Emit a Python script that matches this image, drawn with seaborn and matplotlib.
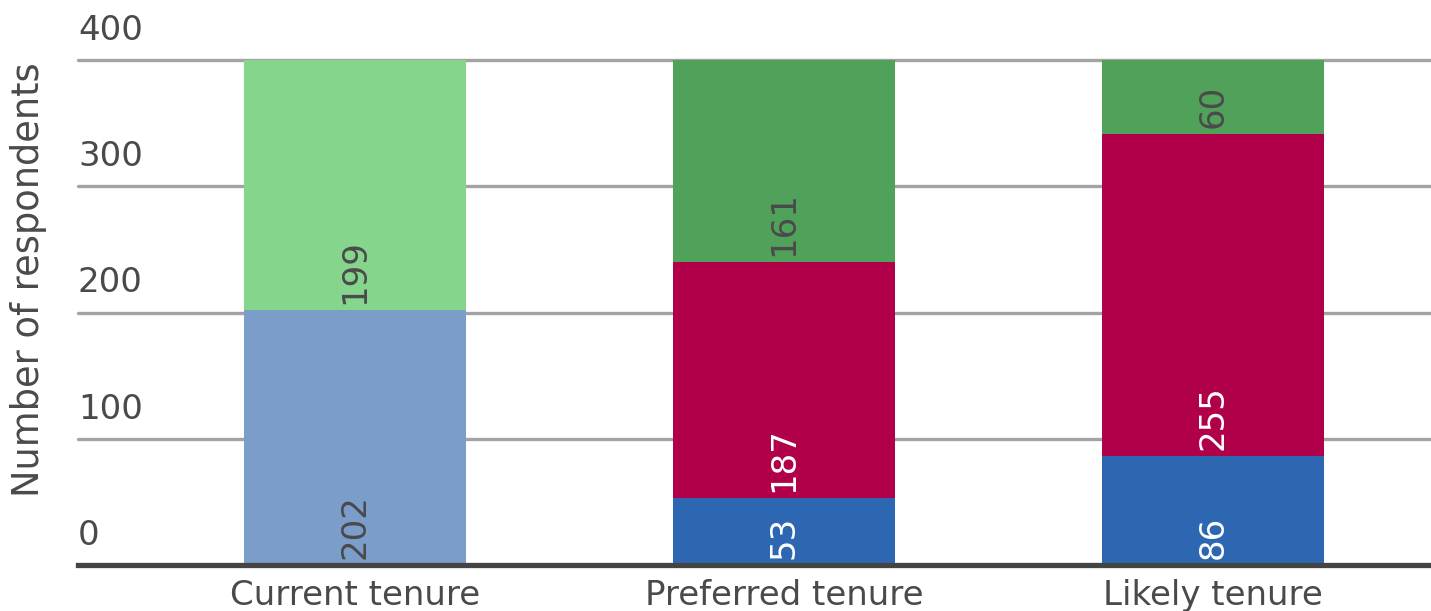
import matplotlib
matplotlib.use("Agg")
import matplotlib.pyplot as plt
import matplotlib.transforms as mtransforms
import numpy as np
import pandas as pd
import seaborn as sns

# ---- data ----
categories = ["Current tenure", "Preferred tenure", "Likely tenure"]
seg_bottom = [202, 53, 86]
seg_middle = [0, 187, 255]
seg_top = [199, 161, 60]

y_ticks = [0, 100, 200, 300, 400]

# ---- styling ----
bottom_colors = ["#7b9dc9", "#2e67b1", "#2e67b1"]
middle_colors = ["#b0004a", "#b0004a", "#b0004a"]
top_colors = ["#86d58c", "#50a15a", "#50a15a"]
label_dark = "#4a4a4a"
text_color = "#4a4a4a"
FS = 24.5

sns.set_theme(style="white")
plt.rcParams["font.family"] = ["DejaVu Sans"]

fig = plt.figure(figsize=(14.31, 6.11), dpi=100)
W, H = 1431, 611
ax = fig.add_axes([78 / W, (H - 565) / H, (W - 78) / W, (565 - 60) / H])

cum1 = np.array(seg_bottom)
cum2 = cum1 + np.array(seg_middle)
cum3 = cum2 + np.array(seg_top)

bar_width = 0.517
layers = [(cum3, top_colors, 2), (cum2, middle_colors, 3), (cum1, bottom_colors, 4)]
for heights, colors, z in layers:
    df = pd.DataFrame({"cat": categories, "val": heights})
    sns.barplot(data=df, x="cat", y="val", hue="cat", palette=colors,
                order=categories, hue_order=categories, legend=False,
                width=bar_width, saturation=1, ax=ax, zorder=z, linewidth=0)

# value labels, rotated, anchored at each segment's base
offset = mtransforms.offset_copy(ax.transData, fig=fig, x=0, y=6, units="dots")
segments = [(seg_bottom, np.zeros(3), bottom_colors),
            (seg_middle, cum1, middle_colors),
            (seg_top, cum2, top_colors)]
light = {"#7b9dc9", "#86d58c", "#50a15a"}
for vals, bases, colors in segments:
    for i, (v, b) in enumerate(zip(vals, bases)):
        if v <= 0:
            continue
        c = label_dark if colors[i] in light else "white"
        ax.text(i, b, str(v), rotation=90, ha="center", va="bottom",
                fontsize=FS, color=c, transform=offset, zorder=10)

ax.set_ylim(0, 400)
ax.set_xlim(-0.646, 2.508)
ax.set_yticks(y_ticks)
ax.set_yticklabels([])
ax.tick_params(axis="y", length=0)
ax.tick_params(axis="x", length=0, labelsize=FS, labelcolor=text_color, pad=10)
ax.set_xlabel("")
ax.set_ylabel("")

# horizontal gridlines and tick labels sitting above them
for t in y_ticks[1:]:
    ax.axhline(t, color="#a3a3a3", linewidth=2.4, zorder=1, clip_on=False)
tick_tf = mtransforms.blended_transform_factory(ax.transAxes, ax.transData)
tick_tf = mtransforms.offset_copy(tick_tf, fig=fig, x=0, y=20, units="dots")
for t in y_ticks:
    ax.text(0, t, str(t), transform=tick_tf, ha="left", va="baseline",
            fontsize=FS, color=text_color)

for side in ["top", "right", "left"]:
    ax.spines[side].set_visible(False)
ax.spines["bottom"].set_color("#444444")
ax.spines["bottom"].set_linewidth(3.8)
ax.spines["bottom"].set_zorder(20)

fig.text(29 / W, 1 - 280 / H, "Number of respondents", rotation=90,
         ha="center", va="center", fontsize=26.5, color=text_color)

fig.savefig("out.png", dpi=100)
